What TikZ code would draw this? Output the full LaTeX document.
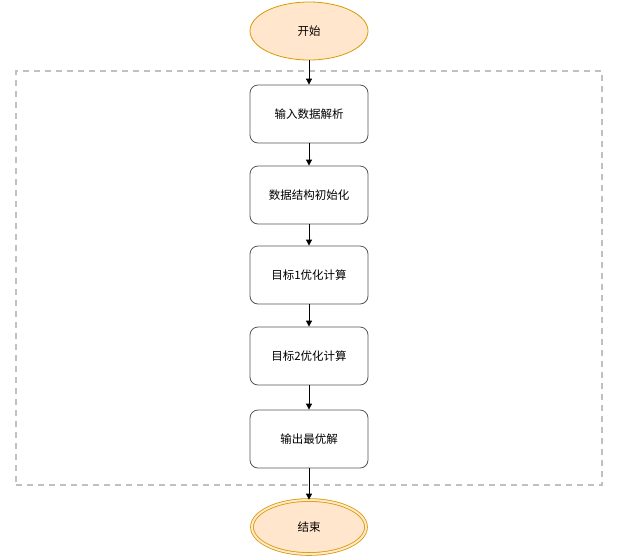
\documentclass[tikz,border=0pt]{standalone}
\usepackage{fontspec}
\setmainfont{Noto Sans CJK SC}
\usetikzlibrary{shapes.geometric,arrows.meta}
\definecolor{termfill}{HTML}{FFE6CC}
\definecolor{termdraw}{HTML}{D79B00}
\definecolor{boxdraw}{HTML}{555555}
\definecolor{dashgray}{HTML}{C0C0C0}
\tikzset{
  term/.style={ellipse, draw=termdraw, fill=termfill, minimum width=118pt, minimum height=58pt, inner sep=0pt, font=\fontsize{11.5pt}{13pt}\selectfont, line width=0.8pt},
  stepbox/.style={draw=boxdraw, fill=white, rounded corners=8pt, minimum width=118pt, minimum height=58pt, inner sep=0pt, font=\fontsize{11.5pt}{13pt}\selectfont, line width=0.8pt},
  conn/.style={-{Triangle[length=6pt,width=6pt]}, line width=0.8pt, black}
}
\begin{document}
\begin{tikzpicture}[x=1pt,y=-1pt]
\useasboundingbox (0,0) rectangle (618,558);
\node[draw=dashgray, line width=1.5pt, dash pattern=on 6pt off 5pt, minimum width=586pt, minimum height=414pt, inner sep=0pt] (frame) at (309,278) {};
\node[term] (start) at (309,31) {开始};
\node[stepbox] (s1) at (309,114) {输入数据解析};
\node[stepbox] (s2) at (309,195) {数据结构初始化};
\node[stepbox] (s3) at (309,275) {目标1优化计算};
\node[stepbox] (s4) at (309,356) {目标2优化计算};
\node[stepbox] (s5) at (309,439) {输出最优解};
\node[term, double=termfill, double distance=2pt, minimum width=114pt, minimum height=54pt] (end) at (309,527) {结束};
\draw[conn] (start) -- (s1);
\draw[conn] (s1) -- (s2);
\draw[conn] (s2) -- (s3);
\draw[conn] (s3) -- (s4);
\draw[conn] (s4) -- (s5);
\draw[conn] (s5) -- (end);
\end{tikzpicture}
\end{document}
